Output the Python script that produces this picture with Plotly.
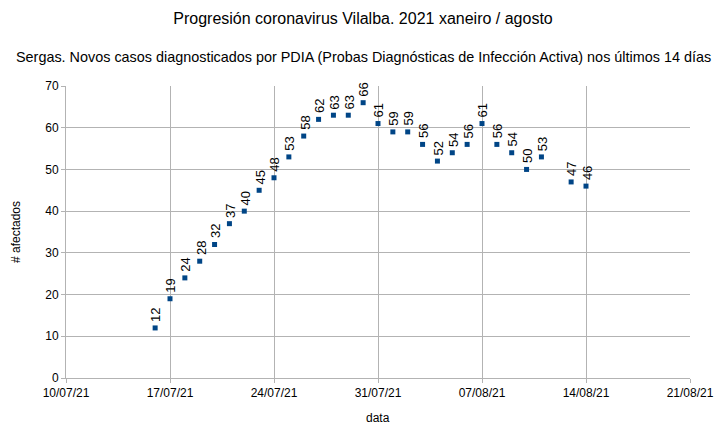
import plotly.graph_objects as go

dates = ["2021-07-16", "2021-07-17", "2021-07-18", "2021-07-19", "2021-07-20", "2021-07-21",
         "2021-07-22", "2021-07-23", "2021-07-24", "2021-07-25", "2021-07-26", "2021-07-27",
         "2021-07-28", "2021-07-29", "2021-07-30", "2021-07-31", "2021-08-01", "2021-08-02",
         "2021-08-03", "2021-08-04", "2021-08-05", "2021-08-06", "2021-08-07", "2021-08-08",
         "2021-08-09", "2021-08-10", "2021-08-11", "2021-08-13", "2021-08-14"]
cases = [12, 19, 24, 28, 32, 37, 40, 45, 48, 53, 58, 62, 63, 63, 66, 61, 59, 59,
         56, 52, 54, 56, 61, 56, 54, 50, 53, 47, 46]

tick_vals = ["2021-07-10", "2021-07-17", "2021-07-24", "2021-07-31", "2021-08-07", "2021-08-14", "2021-08-21"]
tick_text = ["10/07/21", "17/07/21", "24/07/21", "31/07/21", "07/08/21", "14/08/21", "21/08/21"]

title = "Progresión coronavirus Vilalba. 2021 xaneiro / agosto"
subtitle = "Sergas. Novos casos diagnosticados por PDIA (Probas Diagnósticas de Infección Activa) nos últimos 14 días"
x_title = "data"
y_title = "# afectados"

font = "Liberation Sans, Arial, sans-serif"
blue = "#004586"
grid = "#b3b3b3"

fig = go.Figure()
fig.add_trace(go.Scatter(
    x=dates, y=cases, mode="markers",
    marker=dict(symbol="square", size=5, color=blue),
    hoverinfo="x+y", showlegend=False,
))

for d, v in zip(dates, cases):
    fig.add_annotation(x=d, y=v, text=str(v), textangle=-90, showarrow=False,
                       xanchor="center", yanchor="bottom", yshift=4, xshift=1,
                       font=dict(family=font, size=13, color="#000000"))

fig.add_annotation(xref="paper", yref="paper", x=0.476, y=1, xanchor="center", yanchor="bottom",
                   yshift=19, text=subtitle, showarrow=False,
                   font=dict(family=font, size=14.4, color="#000000"))

fig.add_annotation(xref="paper", yref="paper", x=0.5, y=0, xanchor="center", yanchor="top",
                   yshift=-31, text=x_title, showarrow=False,
                   font=dict(family=font, size=12, color="#000000"))

fig.update_layout(
    width=726, height=424,
    margin=dict(l=66, r=36, t=86, b=46),
    paper_bgcolor="white", plot_bgcolor="white",
    title=dict(text=title, x=0.5, xanchor="center", y=0.957, yanchor="middle",
               font=dict(family=font, size=16, color="#000000")),
    font=dict(family=font, size=12, color="#000000"),
)
fig.update_xaxes(
    type="date", range=["2021-07-10", "2021-08-21"],
    tickvals=tick_vals, ticktext=tick_text,
    showgrid=True, gridcolor=grid, gridwidth=1,
    showline=True, linecolor=grid, linewidth=1,
    ticks="outside", ticklen=4, tickcolor=grid,
    tickfont=dict(family=font, size=12, color="#000000"),
    zeroline=False, automargin=False,
)
fig.update_yaxes(
    range=[0, 70], dtick=10,
    showgrid=True, gridcolor=grid, gridwidth=1,
    showline=True, linecolor=grid, linewidth=1,
    ticks="outside", ticklen=4, tickcolor=grid,
    tickfont=dict(family=font, size=12, color="#000000"),
    title=dict(text=y_title, font=dict(family=font, size=12, color="#000000"), standoff=22),
    zeroline=False, automargin=False,
)

fig.write_html("out.html")
